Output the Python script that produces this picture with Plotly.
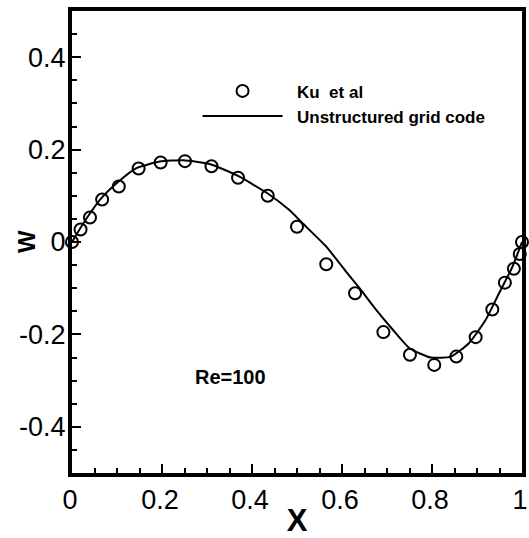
import plotly.graph_objects as go

# Ku et al reference data (circles)
ku_x = [0.0, 0.019, 0.040, 0.067, 0.104, 0.148, 0.197, 0.251, 0.310, 0.369, 0.435, 0.500,
        0.565, 0.629, 0.692, 0.751, 0.805, 0.854, 0.897, 0.934, 0.962, 0.982, 0.995, 1.0]
ku_y = [0.0, 0.027, 0.053, 0.092, 0.120, 0.159, 0.172, 0.175, 0.164, 0.139, 0.100, 0.033,
        -0.048, -0.111, -0.195, -0.244, -0.266, -0.248, -0.206, -0.146, -0.088, -0.058, -0.026, 0.0]

# Unstructured grid code (solid line)
code_x = [0, 0.025, 0.062, 0.099, 0.143, 0.195, 0.247, 0.306, 0.369, 0.435, 0.483, 0.513,
          0.565, 0.609, 0.639, 0.676, 0.713, 0.750, 0.797, 0.842, 0.882, 0.919, 0.949, 0.979, 1.0]
code_y = [0, 0.040, 0.091, 0.127, 0.160, 0.174, 0.177, 0.169, 0.143, 0.105, 0.069, 0.040,
          -0.010, -0.064, -0.100, -0.147, -0.190, -0.230, -0.250, -0.248, -0.219, -0.169, -0.111, -0.053, 0.0]

x_ticks = [0, 0.2, 0.4, 0.6, 0.8, 1.0]
x_labels = ["0", "0.2", "0.4", "0.6", "0.8", "1"]
y_ticks = [-0.4, -0.2, 0, 0.2, 0.4]
y_labels = ["-0.4", "-0.2", "0", "0.2", "0.4"]

FONT = "Liberation Sans, Arial, sans-serif"

fig = go.Figure()
fig.add_trace(go.Scatter(
    x=ku_x, y=ku_y, mode="markers", name="<b>&nbsp;&nbsp;Ku  et al</b>",
    marker=dict(symbol="circle-open", size=12, color="black", line=dict(width=2, color="black")),
    cliponaxis=False,
))
fig.add_trace(go.Scatter(
    x=code_x, y=code_y, mode="lines", name="<b>&nbsp;&nbsp;Unstructured grid code</b>",
    line=dict(color="black", width=2, shape="spline", smoothing=0.5),
))

fig.update_layout(
    width=529, height=538,
    margin=dict(l=72, r=7, t=11, b=65, autoexpand=False),
    paper_bgcolor="white", plot_bgcolor="white",
    font=dict(family=FONT, color="black"),
    showlegend=True,
    legend=dict(
        x=0.279, y=0.865, xanchor="left", yanchor="top",
        bgcolor="rgba(0,0,0,0)", borderwidth=0,
        font=dict(size=17, family=FONT, color="black"),
        itemwidth=80, tracegroupgap=0,
    ),
    annotations=[
        dict(text="<b>Re=100</b>", x=0.352, y=-0.292, xref="x", yref="y",
             showarrow=False, font=dict(size=20, family=FONT, color="black"),
             xanchor="center", yanchor="middle"),
        dict(text="<b>W</b>", x=-0.102, y=0.5, xref="paper", yref="paper",
             showarrow=False, textangle=-90, font=dict(size=24, family=FONT, color="black"),
             xanchor="center", yanchor="middle"),
    ],
)

fig.update_xaxes(
    range=[0, 1], tickvals=x_ticks, ticktext=x_labels, automargin=False,
    ticklabeloverflow="allow", ticklabelshift=-2,
    ticks="inside", ticklen=9, tickwidth=2, tickcolor="black",
    minor=dict(ticks="inside", ticklen=5, tickwidth=2, dtick=0.05, tick0=0, tickcolor="black"),
    showline=True, linewidth=4, linecolor="black", mirror=True,
    showgrid=False, zeroline=False,
    tickfont=dict(size=27, family=FONT, color="black"),
    title=dict(text="<b>X</b>", font=dict(size=31, family=FONT, color="black"), standoff=2),
)
fig.update_yaxes(
    range=[-0.5, 0.5], tickvals=y_ticks, ticktext=y_labels, automargin=False,
    ticklabeloverflow="allow", ticklabelstandoff=-3,
    ticks="inside", ticklen=9, tickwidth=2, tickcolor="black",
    minor=dict(ticks="inside", ticklen=5, tickwidth=2, dtick=0.05, tick0=0, tickcolor="black"),
    showline=True, linewidth=4, linecolor="black", mirror=True,
    showgrid=False, zeroline=False,
    tickfont=dict(size=27, family=FONT, color="black"),
)

fig.write_html("out.html")
